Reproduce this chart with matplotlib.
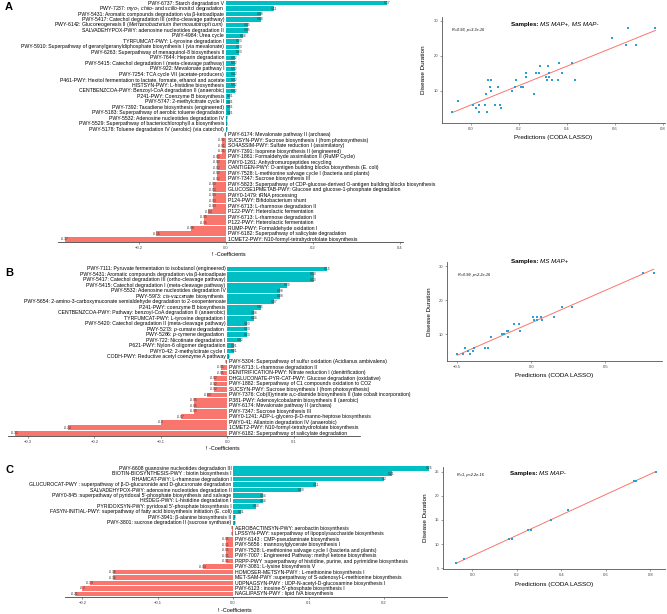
import numpy as np
import matplotlib.pyplot as plt

plt.rcParams['font.family'] = ['Liberation Sans', 'DejaVu Sans']
plt.rcParams['mathtext.fontset'] = 'custom'
plt.rcParams['mathtext.rm'] = 'Liberation Sans'
plt.rcParams['mathtext.it'] = 'Liberation Sans:italic'
plt.rcParams['mathtext.bf'] = 'Liberation Sans:bold'

TEAL = '#00BFC4'
SALMON = '#F8766D'
DOT = '#2A9FD6'

# ---------------- panel A ----------------
a_pos_labels = [
    'PWY-6737: Starch degradation V',
    'PWY-7237: $myo$-, $chiro$- and $scillo$-inositol degradation',
    'PWY-5431: Aromatic compounds degradation via β-ketoadipate',
    'PWY-5417: Catechol degradation III (ortho-cleavage pathway)',
    'PWY-6142: Gluconeogenesis II ($Methanobacterium\\ thermoautotrophicum$)',
    'SALVADEHYPOX-PWY: adenosine nucleotides degradation II',
    'PWY-4984: Urea cycle',
    'TYRFUMCAT-PWY: L-tyrosine degradation I',
    'PWY-5910: Superpathway of geranylgeranyldiphosphate biosynthesis I (via mevalonate)',
    'PWY-6263: Superpathway of menaquinol-8 biosynthesis II',
    'PWY-7644: Heparin degradation',
    'PWY-5415: Catechol degradation I (meta-cleavage pathway)',
    'PWY-922: Mevalonate pathway I',
    'PWY-7254: TCA cycle VII (acetate-producers)',
    'P461-PWY: Hexitol fermentation to lactate, formate, ethanol and acetate',
    'HISTSYN-PWY: L-histidine biosynthesis',
    'CENTBENZCOA-PWY: Benzoyl-CoA degradation II (anaerobic)',
    'P241-PWY: Coenzyme B biosynthesis',
    'PWY-5747: 2-methylcitrate cycle II',
    'PWY-7392: Taxadiene biosynthesis (engineered)',
    'PWY-5183: Superpathway of aerobic toluene degradation',
    'PWY-5532: Adenosine nucleotides degradation IV',
    'PWY-5529: Superpathway of bacteriochlorophyll a biosynthesis',
    'PWY-5178: Toluene degradation IV (aerobic) (via catechol)',
]
a_pos_values = [0.37, 0.11, 0.08, 0.08, 0.05, 0.05, 0.04, 0.03, 0.03, 0.03,
                0.02, 0.02, 0.02, 0.02, 0.02, 0.02, 0.02, 0.01, 0.01, 0.01,
                0.01, 0.002, 0.002, 0.002]
a_neg_labels = [
    'PWY-6174: Mevalonate pathway II (archaea)',
    'SUCSYN-PWY: Sucrose biosynthesis I (from photosynthesis)',
    'SO4ASSIM-PWY: Sulfate reduction I (assimilatory)',
    'PWY-7391: Isoprene biosynthesis II (engineered)',
    'PWY-1861: Formaldehyde assimilation II (RuMP Cycle)',
    'PWY0-1261: Anhydromuropeptides recycling',
    'OANTIGEN-PWY: O-antigen building blocks biosynthesis (E. coli)',
    'PWY-7528: L-methionine salvage cycle I (bacteria and plants)',
    'PWY-7347: Sucrose biosynthesis III',
    'PWY-5823: Superpathway of CDP-glucose-derived O-antigen building blocks biosynthesis',
    'GLUCOSE1PMETAB-PWY: Glucose and glucose-1-phosphate degradation',
    'PWY0-1479: tRNA processing',
    'P124-PWY: Bifidobacterium shunt',
    'PWY-6713: L-rhamnose degradation II',
    'P122-PWY: Heterolactic fermentation',
    'PWY-6713: L-rhamnose degradation II',
    'P122-PWY: Heterolactic fermentation',
    'RUMP-PWY: Formaldehyde oxidation I',
    'PWY-6182: Superpathway of salicylate degradation',
    '1CMET2-PWY: N10-formyl-tetrahydrofolate biosynthesis',
]
a_neg_values = [-0.002, -0.01, -0.01, -0.01, -0.02, -0.02, -0.02, -0.02, -0.02,
                -0.03, -0.03, -0.03, -0.03, -0.03, -0.04, -0.05, -0.05, -0.08,
                -0.16, -0.37]
a_pred = [-0.08, -0.056, 0.006, 0.021, 0.033, 0.033, 0.058, 0.061, 0.067, 0.069,
          0.078, 0.083, 0.085, 0.099, 0.114, 0.121, 0.125, 0.171, 0.183, 0.188,
          0.21, 0.218, 0.228, 0.228, 0.261, 0.269, 0.282, 0.288, 0.313, 0.315,
          0.322, 0.325, 0.326, 0.339, 0.364, 0.365, 0.378, 0.419, 0.432, 0.589,
          0.644, 0.653, 0.686, 0.768]
a_dur = [4, 7, 6, 5, 6, 4, 6, 9, 4, 13, 11, 13, 10, 6, 11, 6, 5, 10, 11, 13,
         11, 11, 15, 14, 9, 15, 15, 17, 14, 13, 17, 15, 14, 13, 13, 18, 15, 18,
         13, 25, 23, 28, 23, 28]

# ---------------- panel B ----------------
b_pos_labels = [
    'PWY-7111: Pyruvate fermentation to isobutanol (engineered)',
    'PWY-5431: Aromatic compounds degradation via β-ketoadipate',
    'PWY-5417: Catechol degradation III (ortho-cleavage pathway)',
    'PWY-5415: Catechol degradation I (meta-cleavage pathway)',
    'PWY-5532: Adenosine nucleotides degradation IV',
    'PWY-5973: $cis$-vaccenate biosynthesis',
    'PWY-5654: 2-amino-3-carboxymuconate semialdehyde degradation to 2-oxopentenoate',
    'P241-PWY: coenzyme B biosynthesis',
    'CENTBENZCOA-PWY: Pathway: benzoyl-CoA degradation II (anaerobic)',
    'TYRFUMCAT-PWY: L-tyrosine degradation I',
    'PWY-5420: Catechol degradation II (meta-cleavage pathway)',
    'PWY-5273: $p$-cumate degradation',
    'PWY-5266: $p$-cymene degradation',
    'PWY-722: Nicotinate degradation I',
    'P621-PWY: Nylon-6 oligomer degradation',
    'PWY0-42: 2-methylcitrate cycle I',
    'CODH-PWY: Reductive acetyl coenzyme A pathway',
]
b_pos_values = [0.15, 0.13, 0.13, 0.09, 0.08, 0.08, 0.07, 0.05, 0.04, 0.04,
                0.03, 0.03, 0.03, 0.02, 0.01, 0.01, 0.002]
b_neg_labels = [
    'PWY-5304: Superpathway of sulfur oxidation (Acidianus ambivalens)',
    'PWY-6713: L-rhamnose degradation II',
    'DENITRIFICATION-PWY: Nitrate reduction I (denitrification)',
    'DHGLUCONATE-PYR-CAT-PWY: Glucose degradation (oxidative)',
    'PWY-1882: Superpathway of C1 compounds oxidation to CO2',
    'SUCSYN-PWY: Sucrose biosynthesis I (from photosynthesis)',
    'PWY-7376: Cob(II)yrinate a,c-diamide biosynthesis II (late cobalt incorporation)',
    'P381-PWY: Adenosylcobalamin biosynthesis II (aerobic)',
    'PWY-6174: Mevalonate pathway II (archaea)',
    'PWY-7347: Sucrose biosynthesis III',
    'PWY0-1241: ADP-L-glycero-β-D-manno-heptose biosynthesis',
    'PWY0-41: Allantoin degradation IV (anaerobic)',
    '1CMET2-PWY: N10-formyl-tetrahydrofolate biosynthesis',
    'PWY-6182: Superpathway of salicylate degradation',
]
b_neg_values = [-0.002, -0.01, -0.01, -0.02, -0.02, -0.02, -0.03, -0.05, -0.05,
                -0.05, -0.07, -0.1, -0.24, -0.32]
b_pred = [-0.5, -0.46, -0.445, -0.425, -0.415, -0.395, -0.39, -0.31, -0.29,
          -0.275, -0.195, -0.185, -0.165, -0.16, -0.155, -0.115, -0.085, -0.075,
          0.01, 0.015, 0.035, 0.04, 0.065, 0.07, 0.155, 0.205, 0.275, 0.75, 0.825]
b_dur = [4, 4, 6, 5, 4, 5, 6, 6, 6, 9, 10, 10, 11, 11, 9, 13, 13, 11, 15, 14,
         15, 14, 15, 14, 15, 18, 18, 28, 28]

# ---------------- panel C ----------------
c_pos_labels = [
    'PWY-6608 guanosine nucleotides degradation III',
    'BIOTIN-BIOSYNTHESIS-PWY : biotin biosynthesis I',
    'RHAMCAT-PWY: L-rhamnose degradation I',
    'GLUCUROCAT-PWY : superpathway of β-D-glucuronide and D-glucuronate degradation',
    'SALVADEHYPOX-PWY: adenosine nucleotides degradation II',
    "PWY0-845 :superpathway of pyridoxal 5'-phosphate biosynthesis and salvage",
    'HISDEG-PWY: L-histidine degradation I',
    "PYRIDOXSYN-PWY: pyridoxal 5'-phosphate biosynthesis I",
    'FASYN-INITIAL-PWY: superpathway of fatty acid biosynthesis initiation (E. coli)',
    'PWY-3941: β-alanine biosynthesis II',
    'PWY-3801: sucrose degradation II (sucrose synthase)',
]
c_pos_values = [0.26, 0.21, 0.2, 0.11, 0.09, 0.04, 0.04, 0.03, 0.01, 0.002, 0.002]
c_neg_labels = [
    'AEROBACTINSYN-PWY: aerobactin biosynthesis',
    'LPSSYN-PWY: superpathway of lipopolysaccharide biosynthesis',
    'PWY-6143 : CMP-pseudaminate biosynthesis',
    'PWY-5656 : mannosylglycerate biosynthesis I',
    'PWY-7528: L-methionine salvage cycle I (bacteria and plants)',
    'PWY-7007 : Engineered Pathway: methyl ketone biosynthesis',
    'PRPP-PWY :superpathway of histidine, purine, and pyrimidine biosynthesis',
    'PWY-3081: L-lysine biosynthesis V',
    'HOMOSER-METSYN-PWY : L-methionine biosynthesis I',
    'MET-SAM-PWY :superpathway of S-adenosyl-L-methionine biosynthesis',
    'UDPNAGSYN-PWY : UDP-N-acetyl-D-glucosamine biosynthesis I',
    "PWY-6123 : inosine-5'-phosphate biosynthesis I",
    'NAGLIPASYN-PWY : lipid IVA biosynthesis',
]
c_neg_values = [-0.002, -0.002, -0.01, -0.01, -0.01, -0.01, -0.01, -0.04, -0.16,
                -0.16, -0.19, -0.2, -0.21]
c_pred = [-0.075, -0.036, 0.165, 0.178, 0.252, 0.262, 0.355, 0.431, 0.727, 0.736, 0.824]
c_dur = [6, 7, 11, 11, 13, 13, 15, 17, 23, 23, 25]


def fmt(v):
    if round(v, 2) == 0:
        return '0'
    s = ('%.2f' % abs(v)).rstrip('0').rstrip('.')
    return ('-' if v < 0 else '') + s


def draw_bars(ax, pos_labels, pos_vals, neg_labels, neg_vals, xlim, xticks):
    labels = pos_labels + neg_labels
    vals = pos_vals + neg_vals
    n = len(vals)
    npos = len(pos_vals)
    colors = [TEAL] * npos + [SALMON] * len(neg_vals)
    ax.barh(np.arange(n), vals, height=0.86, color=colors)
    for i, (lab, v) in enumerate(zip(labels, vals)):
        if i < npos:
            ax.annotate(lab, (0, i), xytext=(-1.2, 0), textcoords='offset points',
                        ha='right', va='center', fontsize=3.7)
        else:
            ax.annotate(lab, (0, i), xytext=(1.5, 0), textcoords='offset points',
                        ha='left', va='center', fontsize=3.7)
        ax.text(v, i, fmt(v), ha='center', va='center', fontsize=2.4, color='#333333')
    ax.set_ylim(n - 0.5, -0.55)
    ax.set_xlim(*xlim)
    ax.set_xticks(xticks)
    ax.set_yticks([])
    for s in ['left', 'right', 'top']:
        ax.spines[s].set_visible(False)
    ax.spines['bottom'].set_color('#444444')
    ax.spines['bottom'].set_linewidth(0.6)
    ax.tick_params(axis='x', labelsize=3, length=1.5, width=0.4, pad=1.5,
                   color='#444444', labelcolor='#444444')
    ax.patch.set_alpha(0)


def draw_scatter(ax, x, y, xlim, ylim, xticks, yticks, ann, ann_xy, rest, title_xy):
    ax.scatter(x, y, s=3, color=DOT, marker='s', linewidths=0, zorder=3)
    k, b = np.polyfit(x, y, 1)
    xs = np.array([min(x), max(x)])
    ax.plot(xs, k * xs + b, color=SALMON, lw=0.7, zorder=2)
    ax.set_xlim(*xlim)
    ax.set_ylim(*ylim)
    ax.set_xticks(xticks)
    ax.set_yticks(yticks)
    for s in ['right', 'top']:
        ax.spines[s].set_visible(False)
    for s in ['left', 'bottom']:
        ax.spines[s].set_color('#555555')
        ax.spines[s].set_linewidth(0.6)
    ax.tick_params(labelsize=3, length=1.5, width=0.4, pad=1.5, color='#555555',
                   labelcolor='#444444')
    ax.set_xlabel('Predictions (CODA LASSO)', fontsize=4.6, labelpad=3)
    ax.set_ylabel('Disease Duration', fontsize=4.6, labelpad=5)
    ax.text(ann_xy[0], ann_xy[1], ann, transform=ax.transAxes, fontsize=2.8,
            style='italic', ha='left', va='center')
    ax.text(title_xy[0], title_xy[1], 'Samples: ', transform=ax.transAxes,
            fontsize=4.5, weight='bold', ha='right', va='center')
    ax.text(title_xy[0], title_xy[1], rest, transform=ax.transAxes,
            fontsize=4.5, style='italic', ha='left', va='center')


fig = plt.figure(figsize=(6.67, 6.14), dpi=100)

axA = fig.add_axes([0.087, 0.606, 0.517, 0.394])
draw_bars(axA, a_pos_labels, a_pos_values, a_neg_labels, a_neg_values,
          (-0.386, 0.407), [-0.2, 0, 0.2, 0.4])
axB = fig.add_axes([0.012, 0.29, 0.528, 0.277])
draw_bars(axB, b_pos_labels, b_pos_values, b_neg_labels, b_neg_values,
          (-0.33, 0.2), [-0.3, -0.2, -0.1, 0, 0.1])
axC = fig.add_axes([0.0975, 0.0282, 0.572, 0.2142])
draw_bars(axC, c_pos_labels, c_pos_values, c_neg_labels, c_neg_values,
          (-0.223, 0.283), [-0.2, -0.1, 0, 0.1, 0.2])

fig.text(229 / 667, 1 - 254 / 614, '! -Coefficients', fontsize=4, ha='center', va='center')
fig.text(223 / 667, 1 - 449 / 614, '! -Coefficients', fontsize=4, ha='center', va='center')
fig.text(235 / 667, 1 - 610.5 / 614, '! -Coefficients', fontsize=4, ha='center', va='center')

fig.text(5 / 667, 1 - 7 / 614, 'A', fontsize=8, weight='bold', ha='left', va='center')
fig.text(5 / 667, 1 - 273 / 614, 'B', fontsize=8, weight='bold', ha='left', va='center')
fig.text(5 / 667, 1 - 470 / 614, 'C', fontsize=8, weight='bold', ha='left', va='center')

sA = fig.add_axes([0.6627, 0.7997, 0.3343, 0.1726])
draw_scatter(sA, a_pred, a_dur, (-0.121, 0.808), (0.77, 31.06), [0.0, 0.2, 0.4, 0.6, 0.8],
             [10, 20, 30], 'R=0.93, p=3.3e-16', (0.045, 0.877), 'MS MAP+, MS MAP-', (0.44, 0.934))
sB = fig.add_axes([0.6706, 0.4125, 0.3214, 0.1612])
draw_scatter(sB, b_pred, b_dur, (-0.567, 0.879), (2.15, 31.3), [-0.5, 0.0, 0.5],
             [10, 20, 30], 'R=0.99, p<2.2e-16', (0.05, 0.866), 'MS MAP+', (0.432, 1.0))
sC = fig.add_axes([0.6646, 0.0728, 0.3324, 0.1671])
draw_scatter(sC, c_pred, c_dur, (-0.13, 0.866), (4.8, 26.0), [0.0, 0.2, 0.4, 0.6, 0.8],
             [5, 10, 15, 20, 25], 'R=1, p<2.2e-16', (0.062, 0.919), 'MS MAP-', (0.433, 0.93))

fig.savefig('out.png', dpi=100)
